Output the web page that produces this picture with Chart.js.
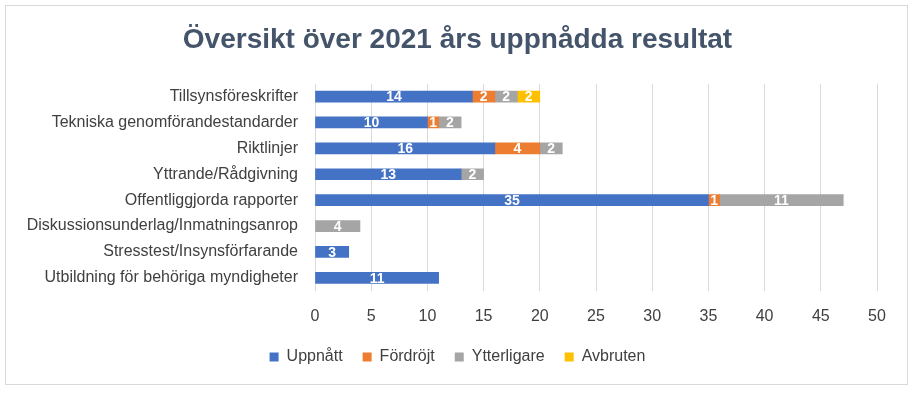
<!DOCTYPE html>
<html>
<head>
<meta charset="utf-8">
<script src="https://cdn.jsdelivr.net/npm/chart.js@4/dist/chart.umd.min.js"></script>
<style>
  html, body { margin: 0; padding: 0; background: #fff; }
  .frame {
    position: absolute; left: 5px; top: 5px; width: 903px; height: 380px;
    border: 1px solid #d9d9d9; box-sizing: border-box;
  }
  #wrap { position: absolute; left: 0; top: 0; width: 915px; height: 393px; }
</style>
</head>
<body>
<div class="frame"></div>
<div id="wrap"><canvas id="chart"></canvas></div>
<script>
// Kategorier och serier, tomma celler = null
const categories = [
    'Tillsynsföreskrifter',
    'Tekniska genomförandestandarder',
    'Riktlinjer',
    'Yttrande/Rådgivning',
    'Offentliggjorda rapporter',
    'Diskussionsunderlag/Inmatningsanrop',
    'Stresstest/Insynsförfarande',
    'Utbildning för behöriga myndigheter'
];
const uppnatt     = [14, 10, 16, 13, 35, null, 3, 11];
const fordrojt    = [2, 1, 4, null, 1, null, null, null];
const ytterligare = [2, 2, 2, 2, 11, 4, null, null];
const avbruten    = [2, null, null, null, null, null, null, null];
const xTicks = [0, 5, 10, 15, 20, 25, 30, 35, 40, 45, 50];

const FONT = 'Liberation Sans, sans-serif';

// enkel etikett-plugin: vita siffror mitt i varje segment
const barLabels = {
    id: 'barLabels',
    afterDatasetsDraw(chart) {
        const ctx = chart.ctx;
        ctx.save();
        ctx.fillStyle = '#ffffff';
        ctx.font = 'bold 14px ' + FONT;
        ctx.textAlign = 'center';
        ctx.textBaseline = 'middle';
        chart.data.datasets.forEach((ds, i) => {
            const meta = chart.getDatasetMeta(i);
            meta.data.forEach((bar, j) => {
                const v = ds.data[j];
                if (!v) return;
                const cx = (bar.x + bar.base) / 2;
                ctx.fillText(String(v), cx, bar.y + 1);
            });
        });
        ctx.restore();
    }
};

const mkDs = (label, data, color) => ({
    label, data, backgroundColor: color, borderWidth: 0,
    barThickness: 11
});

new Chart(document.getElementById('chart'), {
    type: 'bar',
    data: {
        labels: categories,
        datasets: [
            mkDs('Uppnått', uppnatt, '#4472c4'),
            mkDs('Fördröjt', fordrojt, '#ed7d31'),
            mkDs('Ytterligare', ytterligare, '#a5a5a5'),
            mkDs('Avbruten', avbruten, '#ffc000')
        ]
    },
    options: {
        indexAxis: 'y',
        responsive: true,
        maintainAspectRatio: false,
        animation: false,
        layout: { padding: { left: 0, right: 0, top: 14, bottom: 18 } },
        plugins: {
            title: {
                display: true,
                text: 'Översikt över 2021 års uppnådda resultat',
                color: '#44546a',
                font: { family: FONT, size: 28, weight: 'bold' },
                padding: { top: 9, bottom: 27 }
            },
            legend: {
                position: 'bottom',
                labels: {
                    color: '#404040',
                    font: { family: FONT, size: 16 },
                    boxWidth: 9, boxHeight: 9,
                    padding: 20
                }
            },
            tooltip: { enabled: false }
        },
        scales: {
            x: {
                stacked: true,
                min: 0, max: 50,
                afterBuildTicks: axis => { axis.ticks = xTicks.map(v => ({ value: v })); },
                afterFit: scale => { scale.height -= 13; },
                ticks: {
                    color: '#404040',
                    font: { family: FONT, size: 16 },
                    padding: 16
                },
                grid: { color: '#d9d9d9', lineWidth: 1, drawTicks: false },
                border: { display: false }
            },
            y: {
                stacked: true,
                afterFit: scale => { scale.width = 315; },
                ticks: {
                    color: '#404040',
                    font: { family: FONT, size: 16 },
                    padding: 17,
                    autoSkip: false
                },
                grid: { display: false, drawTicks: false },
                border: { display: false }
            },
            // tom axel till höger, bara för marginalen
            yRight: {
                type: 'category',
                position: 'right',
                afterFit: scale => { scale.width = 38; },
                ticks: { display: false },
                grid: { display: false, drawTicks: false },
                border: { display: false }
            }
        }
    },
    plugins: [barLabels]
});
</script>
</body>
</html>
